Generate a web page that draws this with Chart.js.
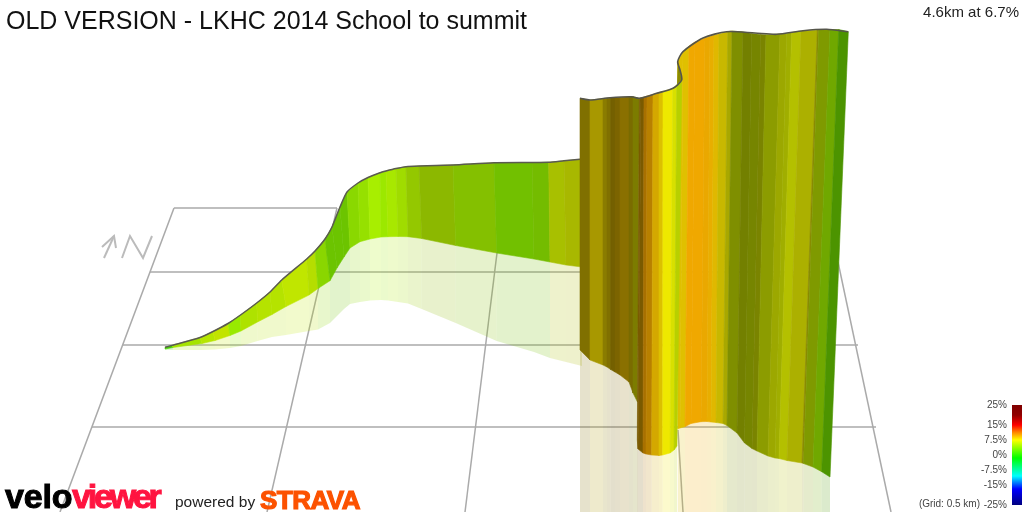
<!DOCTYPE html>
<html>
<head>
<meta charset="utf-8">
<title>LKHC 2014 School to summit</title>
<script src="https://cdn.jsdelivr.net/npm/chart.js@4/dist/chart.umd.min.js"></script>
<style>
  html, body { margin:0; padding:0; background:#fff; width:1024px; height:512px; overflow:hidden; font-family:"Liberation Sans", Arial, sans-serif; }
  canvas { position:absolute; left:0; top:0; }
  #gradeBar { left:940px; top:394px; }
  .txt { position:absolute; white-space:nowrap; }
  #title { left:6px; top:5px; font-size:25px; line-height:30px; color:#111; }
  #stat { right:5px; top:3px; font-size:15px; line-height:18px; color:#222; }
  #grid { right:44px; top:498px; font-size:10px; line-height:12px; color:#444; }
  #velo { left:5px; top:476px; font-size:34px; line-height:40px; font-weight:bold; letter-spacing:-0.2px; color:#000; -webkit-text-stroke:1px #000; }
  #viewer { left:72px; top:476px; font-size:34px; line-height:40px; font-weight:bold; letter-spacing:-3.2px; color:#ff1440; -webkit-text-stroke:1px #ff1440; }
  #powered { left:175px; top:492px; font-size:15.5px; line-height:20px; color:#222; }
  #strava { left:260px; top:485px; font-size:26px; line-height:30px; font-weight:bold; letter-spacing:-0.5px; color:#fc5200; -webkit-text-stroke:1.2px #fc5200; }
</style>
</head>
<body>
<canvas id="profile" width="1024" height="512"></canvas>
<canvas id="gradeBar" width="84" height="122"></canvas>
<div class="txt" id="title">OLD VERSION - LKHC 2014 School to summit</div>
<div class="txt" id="stat">4.6km at 6.7%</div>
<div class="txt" id="grid">(Grid: 0.5 km)</div>
<div class="txt" id="velo">velo</div>
<div class="txt" id="viewer">viewer</div>
<div class="txt" id="powered">powered by</div>
<div class="txt" id="strava">STRAVA</div>
<script>
// Ground grid
const gridLines = [
  [[174,208],[337,208]], [[150,272],[838,272]], [[123,345],[858,345]], [[92,427],[876,427]],
  [[174,208],[60,512]], [[337,208],[267,512]], [[497,253],[465,512]], [[678,430],[683,512]], [[838,262],[891,512]]
];
const northMark = [
  [[104,258],[114,236]], [[102,247],[114,236],[116,248]], [[122,258],[130,236],[143,258],[152,236]]
];

// First climb, seen from behind the wall
const climbTopX = [165,172,200,213,228,240.5,256.7,270,281.7,306.7,315,325,332,340,347,358,368,380,386,396,406,419,453,494,532,548.7,564,580];
const climbTopY = [347.3,345.4,337.5,331.5,323.5,315,303,292,280,259,251,239,227,207,192,183,177.5,172.7,171,168.5,166.7,166,165,162.7,162.5,162.3,160.8,159.3];
const climbBaseX = [165,173,202,215,230,241,257.5,272,286,309,318,330,337,344,350,360,370,381,388,398,408,421.7,455.7,496.7,534,550,566,582];
const climbBaseY = [349,347.5,343.5,340.5,335.5,331,322,314.5,306.5,295,288.5,280.7,268,257,248,241.7,239,237,236.7,236.5,236.7,238.5,245.5,253,259,262,265,267];
const climbFloorY = [350,350,350,349.5,348,346,341,337,335,331,329.5,323,316,309,304,302,300.5,300,300.5,302,303.5,309,323,341,352,358,362,366];
const climbColors = ['#44d000','#a5e400','#b6e600','#c2e400','#98ea00','#aee200','#b5e300','#b5e300','#c0e600','#b5de00','#8ad600','#6cc400','#6cc400','#6cc400','#8ad800','#96e000','#a8ee00','#9ce800','#a8e800','#a0dc00','#94c800','#8cb800','#84c000','#72c000','#74bc00','#a8c000','#a8b800'];

// Back wall
const wallTopX = [580,590,603,607,610.7,615,620,629,633,639.3];
const wallTopY = [98.3,100,98.7,98.3,98,97.8,97.6,96.8,96.7,98.3];
const wallBaseX = [580,590,603,607,610.7,615,620,629,633,637.5];
const wallBaseY = [350,360,365,367,369.5,372,375,382,393,402];
const wallColors = ['#807000','#a89800','#8a7c00','#807000','#746000','#7c6400','#8a7000','#7a6c00','#7c7c00'];

// Front lobe
const lobeTopX = [639.3,641,644,647,653,659,663,672.7,676.7,681.7];
const lobeTopY = [98.3,97.8,97,96,94.5,92.5,91.5,88.5,85,80];
const lobeBaseX = [637.3,638,643,646,651.7,659,662.7,670,674,677];
const lobeBaseY = [440,449,453,454,455,455.5,455,453,450,446];
const lobeColors = ['#7a5a00','#7a5a00','#a87000','#b88000','#d4a800','#dcc000','#eee800','#d8e000','#b8d000'];

// Final ramp to the summit
const rampTopX = [677.7,683,689,695,705,710,714,719,727.7,732,743,751.7,760.7,766,780,786.7,791.7,801,817.3,818.7,830,838.7,848.3];
const rampTopY = [61.7,52,46,42,38,36.5,35,34,31.7,31,32,33.5,34.5,34.8,34,33.5,32.5,31,30,30,29.5,29.5,31.7];
const rampBaseX = [677.7,680,685,691,701,707,711,716,723,727,737,744.5,752,757,768,775,779,787,802,803.5,813,821.7,830];
const rampBaseY = [429,428,426.7,423.5,421.7,421.5,422,422.5,423.5,425.5,433,443,448.5,451,456,458,458.5,460.5,463,463.5,467,471.7,477];
const rampColors = ['#e0c000','#e0c000','#f0a800','#f0a800','#eaa800','#e8ae00','#e0b800','#c8b800','#a8a800','#7f8f00','#738000','#768500','#7a8400','#8c9c00','#9ca800','#a0ae00','#b4c000','#acb000','#8a8a00','#7f9a00','#70a800','#4c9400'];

// Back face showing at the S-bend
const foldX = [677.7,681.7,677];
const foldY = [61.7,80,86];
const foldColor = '#8a8a00';

const summitX = [580,590,610,631.7,639.3,656.7,673,681.7,680,677.7,683,703,726.7,755,776.7,803,826.7,848.3];
const summitY = [98.3,100,97.7,96.7,98.3,93.3,88.3,80,70,61.7,51.7,38,31.7,33,34.3,30.7,29.3,31.7];

// Gradient legend
const gradeTicks = [25,15,7.5,0,-7.5,-15,-25];
const gradeStops = [-25,-17,-10.5,-1.5,7.5,11.5,15,20,25];
const gradeColors = ['#00007f','#0000ff','#00ffff','#00ff00','#ffff00','#ff8000','#ff0000','#900000','#800000'];

const datasets = [];
const pts = (xs, ys) => xs.map((x, i) => ({ x, y: ys[i] }));
const addLine = (data, color, width, tension) => datasets.push({
  type:'line', data, borderColor:color, borderWidth:width, tension:tension || 0,
  pointRadius:0, fill:false, order:1000 - datasets.length
});
const addStrip = (data, color, width) => datasets.push({
  type:'line', data, borderColor:color, backgroundColor:color, borderWidth:width,
  pointRadius:0, fill:false, polygon:true, order:1000 - datasets.length
});

// one polygon per colour band between two edges
function addBand(xa, ya, xb, yb, colors, suffix, width) {
  colors.forEach((c, i) => addStrip([
    { x:xa[i], y:ya[i] }, { x:xa[i+1], y:ya[i+1] },
    { x:xb[i+1], y:yb[i+1] }, { x:xb[i], y:yb[i] }, { x:xa[i], y:ya[i] }
  ], c + suffix, width));
}
const toBottom = xs => xs.map(() => 512);

gridLines.forEach(l => addLine(l.map(p => ({ x:p[0], y:p[1] })), '#aaaaaa', 1.5));
northMark.forEach(l => addLine(l.map(p => ({ x:p[0], y:p[1] })), '#bbbbbb', 2));

addBand(climbBaseX, climbBaseY, climbBaseX, climbFloorY, climbColors, '33', 0);
addBand(climbTopX, climbTopY, climbBaseX, climbBaseY, climbColors, '', 0.6);
addLine(pts(climbTopX, climbTopY), '#5a5a50', 1.5, 0.2);

addBand(rampBaseX, rampBaseY, rampBaseX, toBottom(rampBaseX), rampColors, '33', 0);
addBand(rampTopX, rampTopY, rampBaseX, rampBaseY, rampColors, '', 0.6);
addStrip(pts(foldX, foldY), foldColor, 0.6);

addBand(wallBaseX, wallBaseY, wallBaseX, toBottom(wallBaseX), wallColors, '33', 0);
addBand(wallTopX, wallTopY, wallBaseX, wallBaseY, wallColors, '', 0.6);

addBand(lobeBaseX, lobeBaseY, lobeBaseX, toBottom(lobeBaseX), lobeColors, '33', 0);
addBand(lobeTopX, lobeTopY, lobeBaseX, lobeBaseY, lobeColors, '', 0.6);

addLine(pts(summitX, summitY), '#55554a', 1.6, 0.25);

// Fill each closed band from the points the library placed
const polygonFill = {
  id:'polygonFill',
  beforeDatasetDraw(chart, args) {
    const ds = chart.data.datasets[args.index];
    if (!ds.polygon) return;
    const ctx = chart.ctx;
    ctx.save();
    ctx.beginPath();
    args.meta.data.forEach((p, i) => i ? ctx.lineTo(p.x, p.y) : ctx.moveTo(p.x, p.y));
    ctx.closePath();
    ctx.fillStyle = ds.backgroundColor;
    ctx.fill();
    ctx.restore();
  }
};

new Chart(document.getElementById('profile').getContext('2d'), {
  data:{ datasets },
  options:{
    responsive:false, animation:false,
    layout:{ padding:0 },
    plugins:{ legend:{ display:false }, tooltip:{ enabled:false } },
    scales:{
      x:{ type:'linear', min:0, max:1024, display:false },
      y:{ type:'linear', min:0, max:512, reverse:true, display:false }
    }
  },
  plugins:[polygonFill]
});

// Legend colour bar with its own axis
const barGradient = c => {
  const a = c.chart.chartArea;
  if (!a) return gradeColors[3];
  const g = c.chart.ctx.createLinearGradient(0, a.bottom, 0, a.top);
  gradeColors.forEach((col, i) => g.addColorStop((gradeStops[i] + 25) / 50, col));
  return g;
};
new Chart(document.getElementById('gradeBar').getContext('2d'), {
  type:'bar',
  data:{ labels:['grade'], datasets:[{ data:[[-25,25]], backgroundColor:barGradient, barPercentage:1, categoryPercentage:1 }] },
  options:{
    responsive:false, animation:false,
    layout:{ padding:{ top:9, bottom:3, right:2, left:0 } },
    plugins:{ legend:{ display:false }, tooltip:{ enabled:false } },
    scales:{
      x:{ display:false },
      y:{
        min:-25, max:25, position:'left',
        afterBuildTicks:s => { s.ticks = gradeTicks.map(value => ({ value })); },
        afterFit:s => { s.width = 72; },
        grid:{ display:false, drawTicks:false }, border:{ display:false },
        ticks:{ autoSkip:false, padding:5, color:'#444', font:{ family:'"Liberation Sans"', size:10 }, callback:v => v + '%' }
      }
    }
  }
});
</script>
</body>
</html>
